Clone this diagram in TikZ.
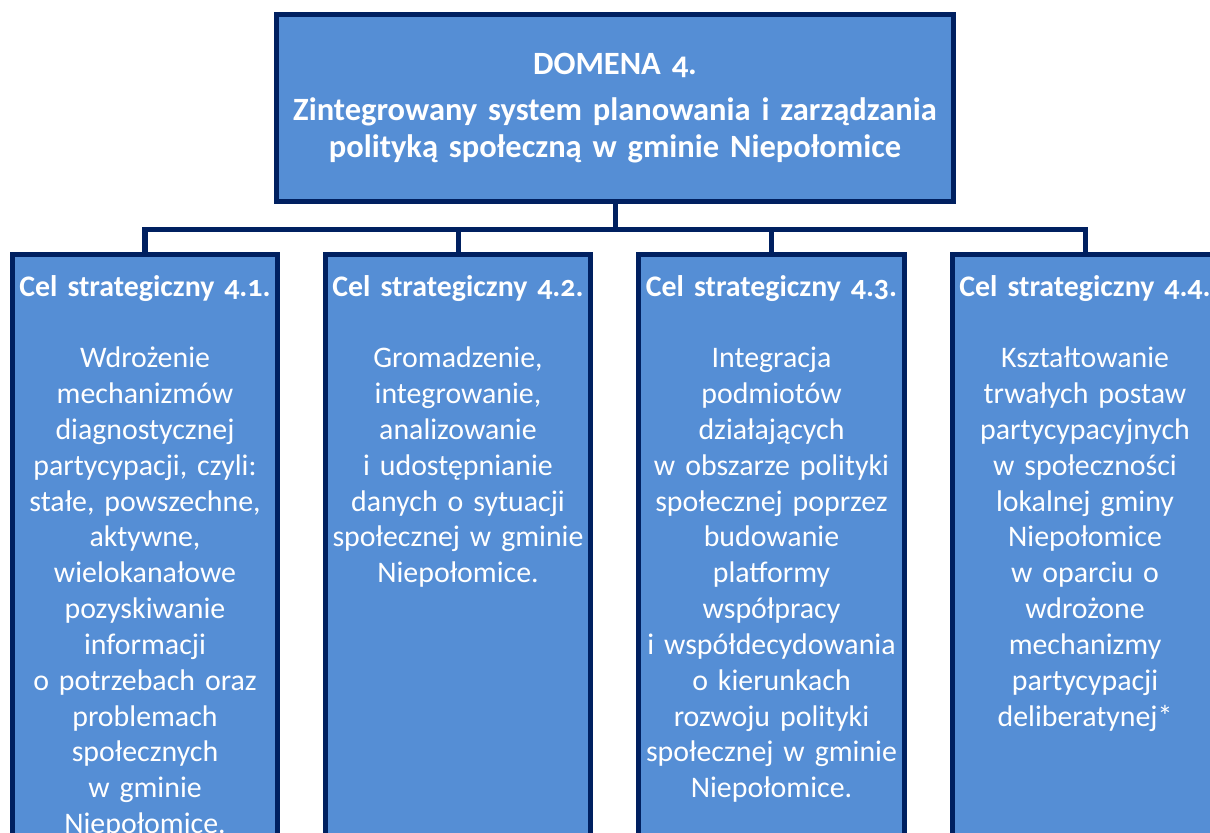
\documentclass[tikz,border=0pt]{standalone}
\usepackage{fontspec}
\setmainfont{Carlito}[Numbers=OldStyle]
\usepackage{tikz}
\usetikzlibrary{positioning}
\usepackage{xcolor}
\definecolor{boxblue}{HTML}{558ED5}
\definecolor{boxline}{HTML}{002060}

\begin{document}
\begin{tikzpicture}[x=0.02cm, y=-0.02cm,
    box/.style={rectangle, draw=boxline, fill=boxblue, line width=2.85pt},
    colbox/.style={box, anchor=north, minimum width=5.32cm, minimum height=13cm},
    coltext/.style={text=white, inner sep=0pt, text width=5.2cm, align=center,
        font=\fontsize{17}{20.4}\selectfont,
        execute at begin node=\strut, execute at end node=\strut},
    coltitle/.style={coltext, font=\fontsize{17}{20.4}\selectfont\bfseries},
    link/.style={draw=boxline, line width=2.85pt}]
        \useasboundingbox (0,0) rectangle (1210,832);
        \clip (0,0) rectangle (1210,832);

        % Domain box
        \node[box, minimum width=13.54cm, minimum height=3.74cm, text width=13.3cm,
              align=center, text=white, font=\fontsize{18.5}{21}\selectfont\bfseries]
              (top) at (615,108)
              {DOMENA 4.\\[5pt] Zintegrowany system planowania i zarządzania\\ polityką społeczną w gminie Niepołomice};

        % Strategic goal columns
        \node[colbox] (c1) at (145,251.5)  {};
        \node[colbox] (c2) at (458,251.5)  {};
        \node[colbox] (c3) at (771.5,251.5) {};
        \node[colbox] (c4) at (1085,251.5) {};

        % Goal titles
        \node[coltitle, below=0.384cm of c1.north] (t1) {Cel strategiczny 4.1.};
        \node[coltitle, below=0.384cm of c2.north] (t2) {Cel strategiczny 4.2.};
        \node[coltitle, below=0.384cm of c3.north] (t3) {Cel strategiczny 4.3.};
        \node[coltitle, below=0.384cm of c4.north] (t4) {Cel strategiczny 4.4.};

        % Goal descriptions
        \node[coltext, below=0.7cm of t1] (b1) {Wdrożenie\\ mechanizmów\\ diagnostycznej\\ partycypacji, czyli:\\ stałe, powszechne,\\ aktywne,\\ wielokanałowe\\ pozyskiwanie\\ informacji\\ o potrzebach oraz\\ problemach\\ społecznych\\ w gminie\\ Niepołomice.};
        \node[coltext, below=0.7cm of t2] (b2) {Gromadzenie,\\ integrowanie,\\ analizowanie\\ i udostępnianie\\ danych o sytuacji\\ społecznej w gminie\\ Niepołomice.};
        \node[coltext, below=0.7cm of t3] (b3) {Integracja\\ podmiotów\\ działających\\ w obszarze polityki\\ społecznej poprzez\\ budowanie\\ platformy\\ współpracy\\ i współdecydowania\\ o kierunkach\\ rozwoju polityki\\ społecznej w gminie\\ Niepołomice.};
        \node[coltext, below=0.7cm of t4] (b4) {Kształtowanie\\ trwałych postaw\\ partycypacyjnych\\ w społeczności\\ lokalnej gminy\\ Niepołomice\\ w oparciu o\\ wdrożone\\ mechanizmy\\ partycypacji\\ deliberatynej*};

        % Connectors
        \coordinate (bar) at (615,229);
        \draw[link] (top.south) -- (bar);
        \draw[link] (c1.north) |- (bar) -| (c4.north);
        \draw[link] (c2.north) -- (c2.north |- bar);
        \draw[link] (c3.north) -- (c3.north |- bar);
    \end{tikzpicture}
\end{document}
